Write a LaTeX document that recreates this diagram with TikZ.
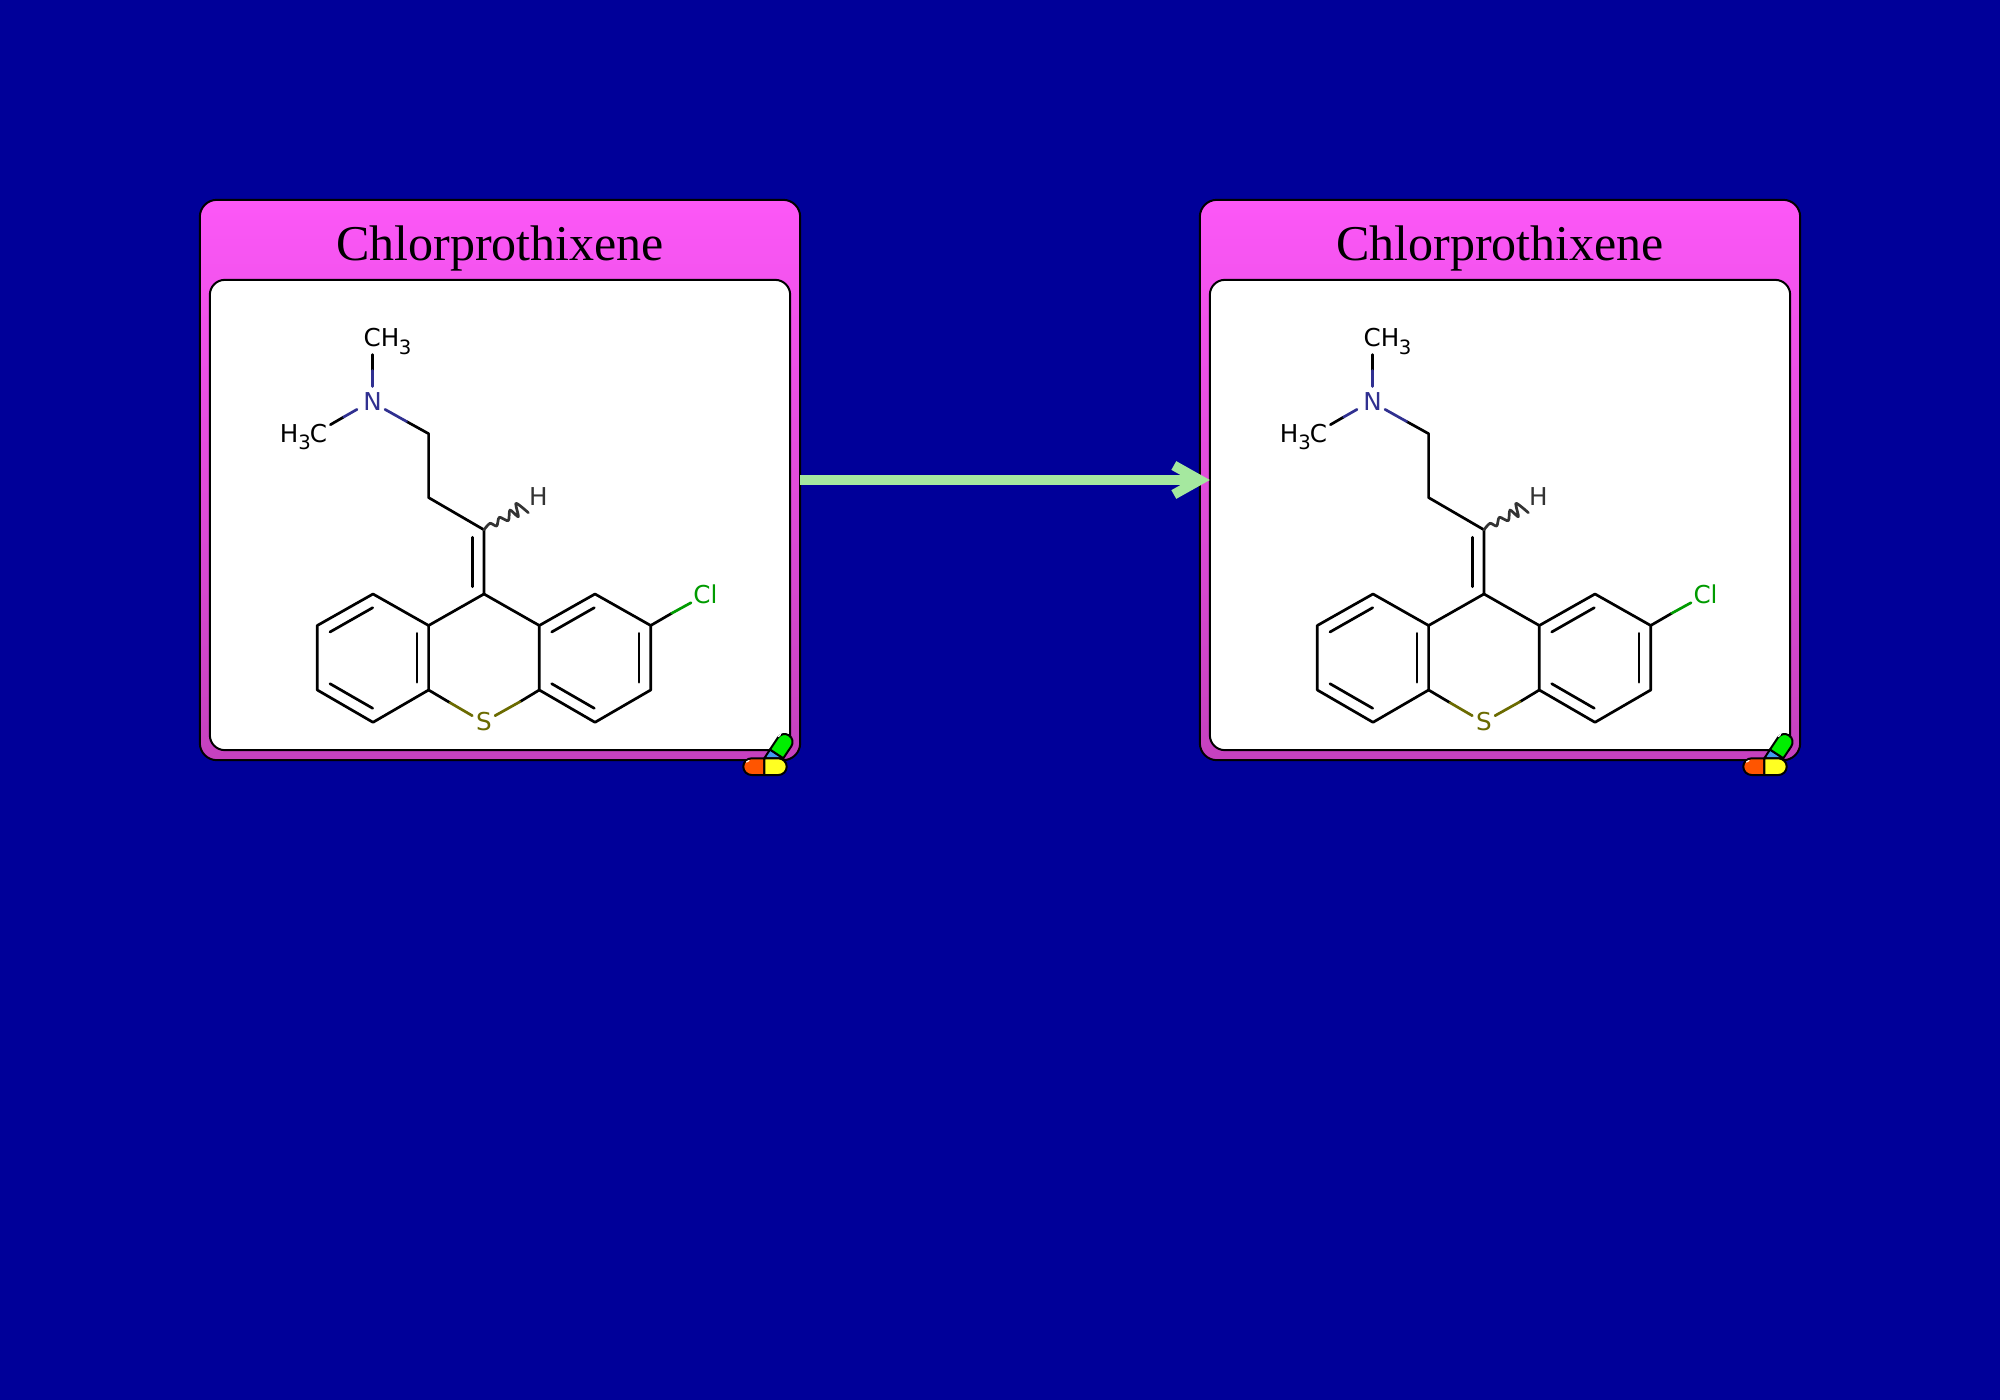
\documentclass[tikz,border=0pt]{standalone}
\usepackage{fontspec}
\setmainfont{Liberation Serif}
\newfontfamily\molfont{DejaVu Sans}
\usetikzlibrary{arrows.meta}
\definecolor{bgblue}{RGB}{0,0,153}
\definecolor{cardtop}{RGB}{252,87,247}
\definecolor{cardbot}{RGB}{197,65,190}
\definecolor{nblue}{RGB}{48,48,144}
\definecolor{clgreen}{RGB}{0,155,0}
\definecolor{solive}{RGB}{107,107,0}
\definecolor{hgrey}{RGB}{51,51,51}
\definecolor{reactgreen}{RGB}{165,232,159}
\definecolor{pillred}{RGB}{255,85,0}
\definecolor{pillyellow}{RGB}{255,255,34}
\definecolor{pillgreen}{RGB}{0,238,0}
\definecolor{pillblue}{RGB}{68,153,238}
\newcommand{\molsub}[1]{\raisebox{-0.32em}{\fontsize{5.6}{6}\selectfont #1}}
\tikzstyle{card} = [rectangle, rounded corners=0.17cm, minimum width=6cm, minimum height=5.6cm, draw=black, line width=0.02cm, outer sep=0pt, top color=cardtop, bottom color=cardbot]
\tikzstyle{panel} = [rectangle, rounded corners=0.15cm, minimum width=5.8cm, minimum height=4.7cm, draw=black, line width=0.02cm, outer sep=0pt, fill=white]
\tikzstyle{title} = [font=\fontsize{14.23}{16}\selectfont, text=black, inner sep=0pt]
\tikzstyle{atom} = [font=\molfont\fontsize{7}{8}\selectfont, anchor=base, inner sep=0pt]
\tikzstyle{bond} = [line width=0.027cm, line cap=round, line join=round]
\tikzstyle{pill} = [draw=black, line width=0.02cm, line join=round]
\tikzstyle{reaction} = [line width=0.1cm, draw=reactgreen, -{Straight Barb[length=0.258cm, width=0.29cm]}]
\begin{document}
\begin{tikzpicture}[x=0.01cm, y=-0.01cm]
            \useasboundingbox (0,0) rectangle (2000,1400);
            \fill [bgblue] (0,0) rectangle (2000,1400);
            \foreach \card/\shft in {a/0, b/1000} {
            \begin{scope}[shift={(\shft,0)}]
            \node [card] at (500,480) (\card-card) {};
            \node [panel] at (500,515) (\card-panel) {};
            \node [title] at (500,248) (\card-title) {Chlorprothixene};
            % atom labels
            \node [atom] at (387.5,347) (\card-ch3) {CH\kern-0.02em\molsub{3}};
            \node [atom] at (303.5,442) (\card-h3c) {H\molsub{3}\kern-0.04em C};
            \node [atom, text=nblue] at (372.6,410) (\card-n) {N};
            \node [atom, text=hgrey] at (538.3,505) (\card-h) {H};
            \node [atom, text=clgreen] at (705.5,603) (\card-cl) {Cl};
            \node [atom, text=solive] at (484,730.3) (\card-s) {S};
            % skeleton
            \coordinate (\card-c1) at (428.6,433.7);
            \coordinate (\card-c2) at (428.6,497.6);
            \coordinate (\card-c3) at (484,529.8);
            \coordinate (\card-c4) at (484,594);
            \coordinate (\card-l1) at (428.6,625.5);
            \coordinate (\card-l2) at (373,594);
            \coordinate (\card-l3) at (317.3,625.5);
            \coordinate (\card-l4) at (317.3,690);
            \coordinate (\card-l5) at (373,722.3);
            \coordinate (\card-l6) at (428.6,690);
            \coordinate (\card-r1) at (539.3,625.5);
            \coordinate (\card-r2) at (595,594);
            \coordinate (\card-r3) at (650.7,625.5);
            \coordinate (\card-r4) at (650.7,690);
            \coordinate (\card-r5) at (595,722.3);
            \coordinate (\card-r6) at (539.3,690);
            % bond ends beside the labels
            \coordinate (\card-ch3e) at (372.7,354.6);
            \coordinate (\card-ch3m) at (372.7,370.5);
            \coordinate (\card-ne1) at (372.7,386.5);
            \coordinate (\card-h3ce) at (330.4,424.7);
            \coordinate (\card-h3cm) at (343.7,417);
            \coordinate (\card-ne2) at (357,409.4);
            \coordinate (\card-ne3) at (385,409.4);
            \coordinate (\card-nm) at (406.6,421.5);
            \coordinate (\card-cle) at (691,602.7);
            \coordinate (\card-clm) at (671.7,613.3);
            \coordinate (\card-sl) at (472.3,715.7);
            \coordinate (\card-slm) at (450,702.7);
            \coordinate (\card-sr) at (495,715.7);
            \coordinate (\card-srm) at (520,701.7);
            \draw [bond] (\card-nm) -- (\card-c1) -- (\card-c2) -- (\card-c3) -- (\card-c4);
            \draw [bond] (\card-c4) -- (\card-l1) -- (\card-l2) -- (\card-l3) -- (\card-l4) -- (\card-l5) -- (\card-l6) -- (\card-l1);
            \draw [bond] (\card-c4) -- (\card-r1) -- (\card-r2) -- (\card-r3) -- (\card-r4) -- (\card-r5) -- (\card-r6) -- (\card-r1);
            % inner lines of double bonds
            \draw [bond] (472.3,537.3) coordinate (\card-d1) -- (472.3,586.7) coordinate (\card-d2);
            \draw [bond] (330,632) coordinate (\card-d3) -- (372.7,607.7) coordinate (\card-d4);
            \draw [bond] (330,683.7) coordinate (\card-d5) -- (372.7,708.3) coordinate (\card-d6);
            \draw [bond] (417,633.3) coordinate (\card-d7) -- (417,682.3) coordinate (\card-d8);
            \draw [bond] (551.7,632) coordinate (\card-d9) -- (594.3,607.7) coordinate (\card-d10);
            \draw [bond] (551.7,683.7) coordinate (\card-d11) -- (594.3,708.3) coordinate (\card-d12);
            \draw [bond] (639,633.3) coordinate (\card-d13) -- (639,682.3) coordinate (\card-d14);
            % bonds to the hetero atoms
            \draw [bond] (\card-ch3e) -- (\card-ch3m);
            \draw [bond, nblue] (\card-ch3m) -- (\card-ne1);
            \draw [bond] (\card-h3ce) -- (\card-h3cm);
            \draw [bond, nblue] (\card-h3cm) -- (\card-ne2);
            \draw [bond, nblue] (\card-ne3) -- (\card-nm);
            \draw [bond] (\card-r3) -- (\card-clm);
            \draw [bond, clgreen] (\card-clm) -- (\card-cle);
            \draw [bond] (\card-l6) -- (\card-slm);
            \draw [bond, solive] (\card-slm) -- (\card-sl);
            \draw [bond] (\card-r6) -- (\card-srm);
            \draw [bond, solive] (\card-srm) -- (\card-sr);
            \draw [bond, hgrey] plot [smooth, tension=0.45] coordinates {(\card-c3) (490,523.3) (496.7,526) (499.3,517.3) (508.3,520.7) (510,510) (518.3,516.7) (516,503.3) (528.3,512.7)};
            % pill in the corner
            \draw [pill, fill=pillblue] (764.3,758.3) -- (770,749.5) -- (783.3,758.3) -- cycle;
            \draw [pill, fill=pillgreen] (770,749.5) -- (777.9,737.6) arc [start angle=213.5, end angle=393.5, radius=8] -- (783.3,758.3) -- cycle;
            \draw [pill, fill=pillred] (764.3,758.3) -- (751.6,758.3) arc [start angle=270, end angle=90, radius=8.35] -- (764.3,775) -- cycle;
            \draw [pill, fill=pillyellow] (764.3,758.3) -- (778.35,758.3) arc [start angle=-90, end angle=90, radius=8.35] -- (764.3,775) -- cycle;
            \draw [white, line width=0.012cm, line cap=round] (746.5,762) -- (749,760.5);
            \draw [white, line width=0.012cm, line cap=round] (778.5,736.5) -- (780.5,734.5);
            \end{scope}
            }
            \draw [reaction] (a-card.east) -- (b-panel.west |- a-card.east);
\end{tikzpicture}
\end{document}
